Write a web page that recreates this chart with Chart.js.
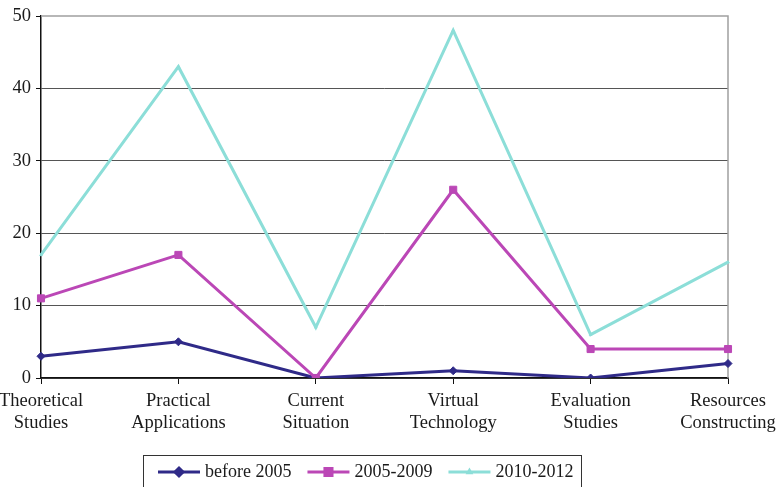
<!DOCTYPE html>
<html>
<head>
<meta charset="utf-8">
<script src="https://cdn.jsdelivr.net/npm/chart.js@4/dist/chart.umd.min.js"></script>
<style>
  html, body { margin: 0; padding: 0; background: #fff; }
  #wrap { width: 782px; height: 487px; position: relative; }
</style>
</head>
<body>
<div id="wrap"><canvas id="c" width="782" height="487"></canvas></div>
<script>
// Research topics by period
const categories = [
  ['Theoretical', 'Studies'],
  ['Practical', 'Applications'],
  ['Current', 'Situation'],
  ['Virtual', 'Technology'],
  ['Evaluation', 'Studies'],
  ['Resources', 'Constructing']
];
const seriesNames = ['before 2005', '2005-2009', '2010-2012'];
const before2005 = [3, 5, 0, 1, 0, 2];
const p2005to2009 = [11, 17, 0, 26, 4, 4];
const p2010to2012 = [17, 43, 7, 48, 6, 16];
const yTicks = [0, 10, 20, 30, 40, 50];

const colors = ['#2f2a88', '#bb47b6', '#8cded8'];
const pointStyles = ['rectRot', 'rect', 'triangle'];
const pointRadii = [4, 5, 1.5];
const FONT = '"Liberation Serif", "Times New Roman", serif';

// Plot frame (top/right border) and boxed legend under the axis
const framePlugin = {
  id: 'frameAndLegend',
  beforeDatasetsDraw(chart) {
    const { ctx, chartArea: a } = chart;
    ctx.save();
    ctx.strokeStyle = '#a0a0a0';
    ctx.lineWidth = 1.5;
    ctx.beginPath();
    ctx.moveTo(a.left, a.top);
    ctx.lineTo(a.right, a.top);
    ctx.lineTo(a.right, a.bottom);
    ctx.stroke();
    ctx.restore();
  },
  afterDraw(chart) {
    const { ctx } = chart;
    ctx.save();
    ctx.font = '18px ' + FONT;
    const boxLeft = 143, boxTop = 455, boxRight = 581;
    const cy = 472;
    ctx.strokeStyle = '#333';
    ctx.lineWidth = 1;
    ctx.strokeRect(boxLeft + 0.5, boxTop + 0.5, boxRight - boxLeft, 40);
    let x = 158;
    chart.data.datasets.forEach((ds) => {
      ctx.strokeStyle = ds.borderColor;
      ctx.lineWidth = 3;
      ctx.beginPath();
      ctx.moveTo(x, cy);
      ctx.lineTo(x + 42, cy);
      ctx.stroke();
      ctx.fillStyle = ds.borderColor;
      Chart.helpers.drawPoint(ctx, {
        pointStyle: ds.pointStyle,
        radius: ds.pointRadius,
        borderWidth: 1
      }, x + 21, cy);
      ctx.fillStyle = '#1a1a1a';
      ctx.textBaseline = 'middle';
      ctx.textAlign = 'left';
      ctx.fillText(ds.label, x + 47, cy);
      x += 47 + ctx.measureText(ds.label).width + 16;
    });
    ctx.restore();
  }
};

const datasets = [before2005, p2005to2009, p2010to2012].map((vals, i) => ({
  label: seriesNames[i],
  data: vals,
  order: 3 - i,
  borderColor: colors[i],
  backgroundColor: colors[i],
  borderWidth: 3,
  pointStyle: pointStyles[i],
  pointRadius: pointRadii[i],
  pointHoverRadius: pointRadii[i],
  pointBorderWidth: 1,
  tension: 0
}));

new Chart(document.getElementById('c'), {
  type: 'line',
  data: { labels: categories, datasets: datasets },
  options: {
    responsive: false,
    animation: false,
    layout: { padding: { top: 16, right: 54, bottom: 0, left: 0 } },
    plugins: { legend: { display: false }, tooltip: { enabled: false } },
    scales: {
      x: {
        offset: false,
        grid: {
          display: true,
          drawOnChartArea: false,
          drawTicks: true,
          tickLength: 6,
          tickColor: '#111',
          tickWidth: 1
        },
        border: { display: true, color: '#111', width: 1.5 },
        ticks: {
          color: '#1a1a1a',
          font: { family: FONT, size: 18.5, lineHeight: 1.2 },
          padding: 6,
          maxRotation: 0,
          autoSkip: false
        },
        afterFit(scale) {
          scale.height = 109;
          scale.paddingLeft = 0;
          scale.paddingRight = 0;
        }
      },
      y: {
        min: 0,
        max: 50,
        afterBuildTicks(scale) {
          scale.ticks = yTicks.map(v => ({ value: v }));
        },
        grid: {
          color: ctx => ctx.tick && ctx.tick.value === 50 ? 'rgba(0,0,0,0)' : '#555',
          lineWidth: 1,
          drawTicks: true,
          tickLength: 5,
          tickColor: '#111'
        },
        border: { display: true, color: '#111', width: 1.5 },
        ticks: {
          color: '#1a1a1a',
          font: { family: FONT, size: 18.5 },
          padding: 5
        },
        afterFit(scale) {
          scale.width = 41;
          scale.paddingTop = 0;
          scale.paddingBottom = 0;
        }
      }
    }
  },
  plugins: [framePlugin]
});
</script>
</body>
</html>
